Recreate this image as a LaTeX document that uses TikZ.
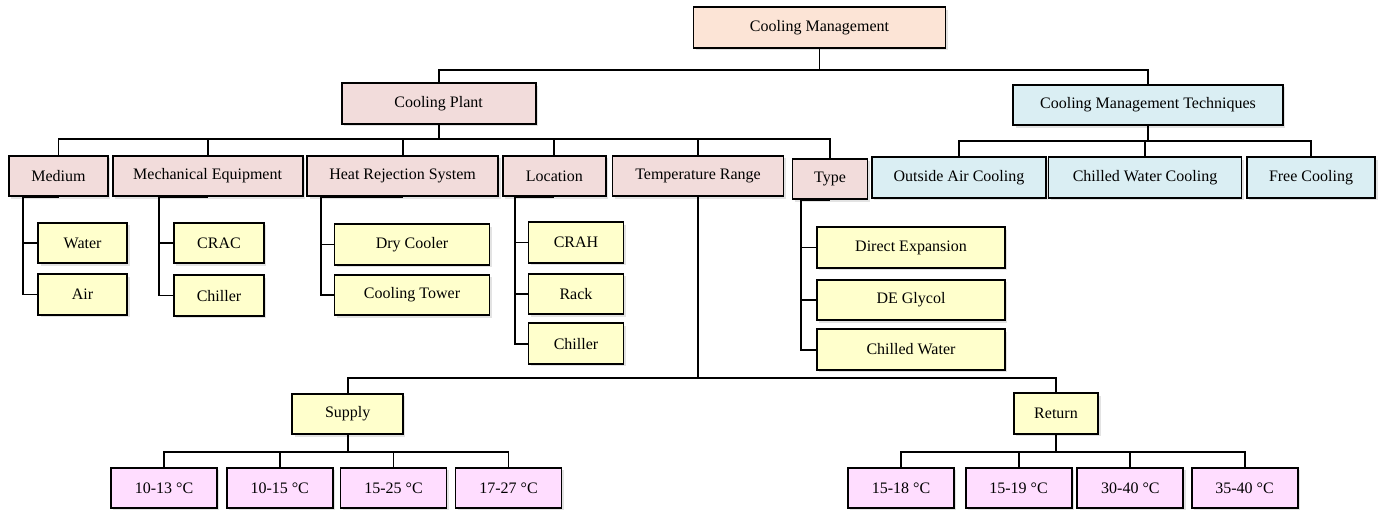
\documentclass[tikz,border=0pt]{standalone}
\usepackage{fontspec}
\setmainfont{Liberation Serif}
\usetikzlibrary{positioning, shadows}

\definecolor{rootfill}{RGB}{252,228,214}
\definecolor{plantfill}{RGB}{242,220,219}
\definecolor{techfill}{RGB}{218,238,243}
\definecolor{leaffill}{RGB}{255,255,204}
\definecolor{rangefill}{RGB}{255,221,255}

\tikzstyle{basebox} = [rectangle, minimum height=30.5pt, inner sep=2pt, text centered, draw=black, line width=1.4pt, font=\fontsize{12}{14}\selectfont, drop shadow={shadow xshift=1.8pt, shadow yshift=-1.8pt, opacity=0.22}]
\tikzstyle{rootbox} = [basebox, fill=rootfill]
\tikzstyle{plantbox} = [basebox, fill=plantfill]
\tikzstyle{techbox} = [basebox, fill=techfill]
\tikzstyle{leafbox} = [basebox, fill=leaffill]
\tikzstyle{rangebox} = [basebox, fill=rangefill, minimum width=79.5pt]
\tikzstyle{line} = [line width=1.4pt]

\begin{document}
\begin{tikzpicture}[x=0.75pt, y=-0.75pt]

\useasboundingbox (0,0) rectangle (1382,510);

\node (cm) [rootbox, minimum width=189pt] at (819.5,27.5) {Cooling Management};
\node (plant) [plantbox, minimum width=145.5pt] at (438.6,103.5) {Cooling Plant};
\node (tech) [techbox, minimum width=202pt] at (1148,105) {Cooling Management Techniques};

% cooling plant branches
\node (med) [plantbox, minimum width=74.25pt] at (58.5,176) {Medium};
\node (mech) [plantbox, minimum width=142.5pt] at (207.6,176) {Mechanical Equipment};
\node (heat) [plantbox, minimum width=143.25pt] at (402.6,176) {Heat Rejection System};
\node (loc) [plantbox, minimum width=77.25pt] at (554.4,176) {Location};
\node (temp) [plantbox, minimum width=128.25pt] at (698,176) {Temperature Range};
\node (type) [plantbox, minimum width=56.25pt] at (830,179) {Type};

% techniques
\node (oac) [techbox, minimum width=130.5pt] at (959,177.5) {Outside Air Cooling};
\node (cwc) [techbox, minimum width=144.75pt] at (1145,177.5) {Chilled Water Cooling};
\node (fc) [techbox, minimum width=96.5pt] at (1311,177.5) {Free Cooling};

% leaves
\node (water) [leafbox, minimum width=66.75pt] at (82.6,243) {Water};
\node (air) [leafbox, minimum width=66.75pt, below=6.75pt of water] {Air};
\node (crac) [leafbox, minimum width=67.5pt] at (219,243) {CRAC};
\node (chil1) [leafbox, minimum width=67.5pt, below=7.5pt of crac] {Chiller};
\node (dry) [leafbox, minimum width=116.25pt] at (412,244.5) {Dry Cooler};
\node (tower) [leafbox, minimum width=116.25pt, below=6pt of dry] {Cooling Tower};
\node (crah) [leafbox, minimum width=71.25pt] at (576,242.5) {CRAH};
\node (rack) [leafbox, minimum width=71.25pt, below=6.75pt of crah] {Rack};
\node (chil2) [leafbox, minimum width=71.25pt, below=5.25pt of rack] {Chiller};
\node (dx) [leafbox, minimum width=141pt] at (911,247.5) {Direct Expansion};
\node (glycol) [leafbox, minimum width=141pt, below=7.5pt of dx] {DE Glycol};
\node (cw) [leafbox, minimum width=141pt, below=5.25pt of glycol] {Chilled Water};

% temperature range
\node (sup) [leafbox, minimum width=83pt] at (347.7,414) {Supply};
\node (ret) [leafbox, minimum width=63.3pt] at (1056,413.5) {Return};
\node (s1) [rangebox] at (164,488) {10-13 °C};
\node (s2) [rangebox] at (279.7,488) {10-15 °C};
\node (s3) [rangebox] at (393.5,488) {15-25 °C};
\node (s4) [rangebox] at (508.5,488) {17-27 °C};
\node (r1) [rangebox] at (901,488) {15-18 °C};
\node (r2) [rangebox] at (1018.6,488) {15-19 °C};
\node (r3) [rangebox] at (1130.4,488) {30-40 °C};
\node (r4) [rangebox] at (1244.6,488) {35-40 °C};

\draw [line] (cm.south) -- ++(0,21) -| (plant.north);
\draw [line] (cm.south) -- ++(0,21) -| (tech.north);

\draw [line] (plant.south) -- ++(0,14) -| (med.north);
\draw [line] (plant.south) -- ++(0,14) -| (mech.north);
\draw [line] (plant.south) -- ++(0,14) -| (heat.north);
\draw [line] (plant.south) -- ++(0,14) -| (loc.north);
\draw [line] (plant.south) -- ++(0,14) -| (temp.north);
\draw [line] (plant.south) -- ++(0,14) -| (type.north);

\draw [line] (tech.south) -- ++(0,15) -| (oac.north);
\draw [line] (tech.south) -- ++(0,15) -| (cwc.north);
\draw [line] (tech.south) -- ++(0,15) -| (fc.north);

\draw [line] (water.west) -- ++(-14,0) |- (med.south);
\draw [line] (air.west) -- ++(-14,0) |- (med.south);
\draw [line] (crac.west) -- ++(-14,0) |- (mech.south);
\draw [line] (chil1.west) -- ++(-14,0) |- (mech.south);
\draw [line] (dry.west) -- ++(-13,0) |- (heat.south);
\draw [line] (tower.west) -- ++(-13,0) |- (heat.south);
\draw [line] (crah.west) -- ++(-13,0) |- (loc.south);
\draw [line] (rack.west) -- ++(-13,0) |- (loc.south);
\draw [line] (chil2.west) -- ++(-13,0) |- (loc.south);
\draw [line] (dx.west) -- ++(-15,0) |- (type.south);
\draw [line] (glycol.west) -- ++(-15,0) |- (type.south);
\draw [line] (cw.west) -- ++(-15,0) |- (type.south);

\draw [line] (temp.south) -- ++(0,180.7) -| (sup.north);
\draw [line] (temp.south) -- ++(0,180.7) -| (ret.north);

\draw [line] (sup.south) -- ++(0,17) -| (s1.north);
\draw [line] (sup.south) -- ++(0,17) -| (s2.north);
\draw [line] (sup.south) -- ++(0,17) -| (s3.north);
\draw [line] (sup.south) -- ++(0,17) -| (s4.north);
\draw [line] (ret.south) -- ++(0,17) -| (r1.north);
\draw [line] (ret.south) -- ++(0,17) -| (r2.north);
\draw [line] (ret.south) -- ++(0,17) -| (r3.north);
\draw [line] (ret.south) -- ++(0,17) -| (r4.north);

\end{tikzpicture}
\end{document}
